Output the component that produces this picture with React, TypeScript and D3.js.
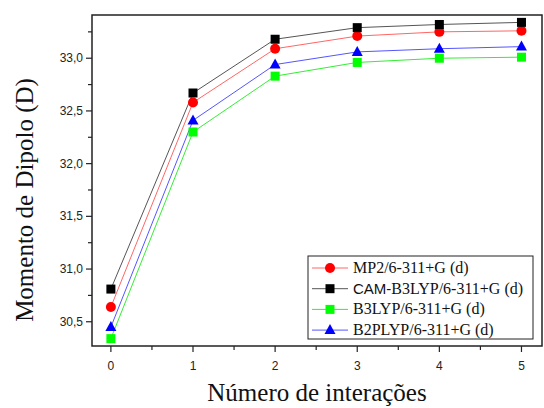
import React, { useEffect, useRef } from 'react';
import * as d3 from 'd3';

const iterations = [0, 1, 2, 3, 4, 5];
const mp2 = [30.64, 32.58, 33.09, 33.21, 33.25, 33.26];
const camB3lyp = [30.81, 32.67, 33.18, 33.29, 33.32, 33.34];
const b3lyp = [30.34, 32.30, 32.83, 32.96, 33.0, 33.01];
const b2plyp = [30.45, 32.41, 32.94, 33.06, 33.09, 33.11];
const yTicks = [30.5, 31.0, 31.5, 32.0, 32.5, 33.0];

const series = [
  { name: 'MP2/6-311+G (d)', values: mp2, color: '#ff0000', line: '#ff6666', marker: 'circle' },
  { name: 'CAM-B3LYP/6-311+G (d)', values: camB3lyp, color: '#000000', line: '#555555', marker: 'square' },
  { name: 'B3LYP/6-311+G (d)', values: b3lyp, color: '#00ff00', line: '#33ee33', marker: 'square' },
  { name: 'B2PLYP/6-311+G (d)', values: b2plyp, color: '#0000ff', line: '#5555ff', marker: 'triangle' },
];
// draw order so black sits on top, like the original
const drawOrder = [2, 3, 0, 1];

const SERIF = "'Liberation Serif', 'DejaVu Serif', serif";
const SANS = "'Liberation Sans', Arial, sans-serif";

export default function App() {
  const ref = useRef<SVGSVGElement>(null);

  useEffect(() => {
    const svg = d3.select(ref.current);
    svg.selectAll('*').remove();

    const left = 92, right = 542, top = 15, bottom = 346;
    const x = d3.scaleLinear().domain([-0.23, 5.25]).range([left, right]);
    const y = d3.scaleLinear().domain([30.27, 33.41]).range([bottom, top]);
    const fmt = (d: number) => d3.format('.1f')(d).replace('.', ',');

    // frame
    svg.append('rect')
      .attr('x', left).attr('y', top)
      .attr('width', right - left).attr('height', bottom - top)
      .attr('fill', 'none').attr('stroke', '#222').attr('stroke-width', 1.5);

    // y axis ticks
    const yMinor = d3.range(30.5, 33.41, 0.25);
    yMinor.forEach(v => {
      const major = Math.abs(v * 2 - Math.round(v * 2)) < 1e-6;
      svg.append('line')
        .attr('x1', left).attr('x2', left - (major ? 6 : 4))
        .attr('y1', y(v)).attr('y2', y(v))
        .attr('stroke', '#222').attr('stroke-width', 1.2);
    });
    svg.append('g').selectAll('text').data(yTicks).join('text')
      .attr('x', left - 9).attr('y', d => y(d) + 4)
      .attr('text-anchor', 'end')
      .style('font-family', SANS)
      .attr('font-size', 12).attr('fill', '#222')
      .text(d => fmt(d));

    // x axis ticks
    d3.range(0, 5.01, 0.5).forEach(v => {
      const major = Number.isInteger(v);
      svg.append('line')
        .attr('x1', x(v)).attr('x2', x(v))
        .attr('y1', bottom).attr('y2', bottom + (major ? 6 : 4))
        .attr('stroke', '#222').attr('stroke-width', 1.2);
    });
    svg.append('g').selectAll('text').data(iterations).join('text')
      .attr('x', d => x(d)).attr('y', bottom + 24)
      .attr('text-anchor', 'middle')
      .style('font-family', SANS)
      .attr('font-size', 12).attr('fill', '#222')
      .text(d => String(d));

    // axis titles
    svg.append('text')
      .attr('transform', `translate(33,200) rotate(-90)`)
      .attr('text-anchor', 'middle')
      .style('font-family', SERIF)
      .attr('font-size', 25).attr('fill', '#111')
      .text('Momento de Dipolo (D)');
    svg.append('text')
      .attr('x', 317).attr('y', 401)
      .attr('text-anchor', 'middle')
      .style('font-family', SERIF)
      .attr('font-size', 25).attr('fill', '#111')
      .text('Número de interações');

    const drawMarker = (g: any, kind: string, cx: number, cy: number, color: string) => {
      if (kind === 'circle') {
        g.append('circle').attr('cx', cx).attr('cy', cy).attr('r', 5).attr('fill', color);
      } else if (kind === 'square') {
        g.append('rect').attr('x', cx - 4.5).attr('y', cy - 4.5)
          .attr('width', 9).attr('height', 9).attr('fill', color);
      } else {
        g.append('path')
          .attr('d', `M${cx},${cy - 6} L${cx + 5.5},${cy + 4} L${cx - 5.5},${cy + 4} Z`)
          .attr('fill', color);
      }
    };

    const line = d3.line<number>().x((_, i) => x(iterations[i])).y(d => y(d));
    const plot = svg.append('g');
    drawOrder.forEach(idx => {
      const s = series[idx];
      plot.append('path').attr('d', line(s.values))
        .attr('fill', 'none').attr('stroke', s.line).attr('stroke-width', 1);
    });
    drawOrder.forEach(idx => {
      const s = series[idx];
      s.values.forEach((v, i) => drawMarker(plot, s.marker, x(iterations[i]), y(v), s.color));
    });

    // legend
    const lg = svg.append('g');
    lg.append('rect')
      .attr('x', 308).attr('y', 256).attr('width', 225).attr('height', 83)
      .attr('fill', 'white').attr('stroke', '#222').attr('stroke-width', 1);
    series.forEach((s, i) => {
      const ly = 268 + i * 20.7;
      lg.append('line').attr('x1', 312).attr('x2', 348).attr('y1', ly).attr('y2', ly)
        .attr('stroke', s.line).attr('stroke-width', 1);
      drawMarker(lg, s.marker, 330, ly, s.color);
      const t = lg.append('text')
        .attr('x', 353).attr('y', ly + 5)
        .style('font-family', SERIF)
        .attr('font-size', 16).attr('fill', '#111');
      if (s.name.startsWith('CAM-')) {
        t.append('tspan').style('font-family', SANS)
          .attr('font-size', 15).text('CAM-');
        t.append('tspan').text(s.name.slice(4));
      } else {
        t.text(s.name);
      }
    });
  }, []);

  return (
    <svg ref={ref} width={544} height={408}
      style={{ position: 'absolute', left: 0, top: 0, background: 'white' }} />
  );
}
